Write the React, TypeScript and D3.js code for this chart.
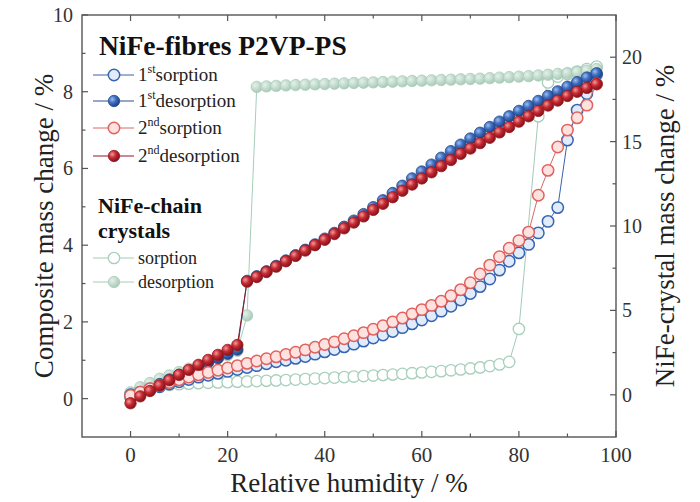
import React from 'react';
import * as d3 from 'd3';

// Relative humidity steps (%)
const rh = [0, 2, 4, 6, 8, 10, 12, 14, 16, 18, 20, 22, 24, 26, 28, 30, 32, 34, 36, 38, 40, 42, 44, 46, 48, 50, 52, 54, 56, 58, 60, 62, 64, 66, 68, 70, 72, 74, 76, 78, 80, 82, 84, 86, 88, 90, 92, 94, 96];

// Composite (left axis)
const sorption1 = [0.10, 0.17, 0.24, 0.31, 0.38, 0.44, 0.50, 0.56, 0.61, 0.66, 0.71, 0.76, 0.81, 0.86, 0.91, 0.96, 1.00, 1.05, 1.10, 1.16, 1.22, 1.28, 1.35, 1.42, 1.50, 1.58, 1.66, 1.75, 1.85, 1.95, 2.05, 2.16, 2.28, 2.41, 2.57, 2.74, 2.92, 3.12, 3.35, 3.58, 3.80, 4.02, 4.32, 4.62, 4.98, 6.74, 7.52, 7.95, 8.45];
const desorption1 = [0.02, 0.14, 0.26, 0.38, 0.50, 0.62, 0.73, 0.84, 0.95, 1.06, 1.17, 1.28, 3.07, 3.19, 3.32, 3.46, 3.60, 3.74, 3.88, 4.02, 4.17, 4.32, 4.48, 4.64, 4.81, 4.99, 5.17, 5.36, 5.55, 5.74, 5.92, 6.10, 6.28, 6.45, 6.62, 6.78, 6.93, 7.08, 7.22, 7.36, 7.50, 7.63, 7.76, 7.89, 8.01, 8.13, 8.25, 8.37, 8.48];
const sorption2 = [0.08, 0.17, 0.26, 0.34, 0.42, 0.49, 0.56, 0.62, 0.68, 0.74, 0.80, 0.86, 0.92, 0.98, 1.04, 1.09, 1.15, 1.21, 1.27, 1.34, 1.41, 1.48, 1.56, 1.64, 1.72, 1.81, 1.90, 2.00, 2.10, 2.21, 2.32, 2.43, 2.54, 2.68, 2.84, 3.02, 3.25, 3.48, 3.70, 3.92, 4.12, 4.34, 5.30, 5.95, 6.56, 7.00, 7.32, 7.65, 8.20];
const desorption2 = [-0.12, 0.06, 0.20, 0.34, 0.48, 0.62, 0.75, 0.88, 1.01, 1.14, 1.27, 1.40, 3.05, 3.17, 3.30, 3.44, 3.58, 3.72, 3.86, 4.00, 4.14, 4.29, 4.44, 4.59, 4.75, 4.92, 5.08, 5.25, 5.42, 5.58, 5.74, 5.90, 6.06, 6.22, 6.38, 6.52, 6.66, 6.80, 6.94, 7.08, 7.22, 7.36, 7.50, 7.64, 7.77, 7.89, 8.00, 8.10, 8.20];

// NiFe-chain crystals (right axis)
const rhCrystalSorption = [0, 2, 4, 6, 8, 10, 12, 14, 16, 18, 20, 22, 24, 26, 28, 30, 32, 34, 36, 38, 40, 42, 44, 46, 48, 50, 52, 54, 56, 58, 60, 62, 64, 66, 68, 70, 72, 74, 76, 78, 80, 84, 86, 88, 90, 92, 94, 96];
const crystalSorption = [0.05, 0.25, 0.40, 0.50, 0.58, 0.63, 0.66, 0.69, 0.71, 0.73, 0.75, 0.77, 0.79, 0.81, 0.83, 0.85, 0.87, 0.90, 0.93, 0.96, 0.99, 1.02, 1.05, 1.08, 1.11, 1.14, 1.17, 1.20, 1.24, 1.28, 1.32, 1.36, 1.40, 1.45, 1.50, 1.56, 1.62, 1.70, 1.80, 1.95, 3.90, 16.5, 18.5, 18.85, 19.0, 19.15, 19.3, 19.45];
const crystalDesorption = [0.15, 0.45, 0.70, 0.95, 1.15, 1.35, 1.55, 1.75, 1.95, 2.15, 2.35, 2.60, 4.70, 18.24, 18.27, 18.30, 18.33, 18.35, 18.37, 18.39, 18.41, 18.43, 18.45, 18.47, 18.49, 18.51, 18.53, 18.55, 18.57, 18.59, 18.61, 18.63, 18.65, 18.67, 18.69, 18.71, 18.73, 18.76, 18.79, 18.82, 18.85, 18.88, 18.92, 18.96, 19.01, 19.06, 19.12, 19.20, 19.30];

const xTicks = [0, 20, 40, 60, 80, 100];
const xMinor = [10, 30, 50, 70, 90];
const yLeftTicks = [0, 2, 4, 6, 8, 10];
const yLeftMinor = [1, 3, 5, 7, 9];
const yRightTicks = [0, 5, 10, 15, 20];
const yRightMinor = [2.5, 7.5, 12.5, 17.5];

const W = 700, H = 502;
const L = 82, R = 616, T = 15, B = 437;
const FONT = '"Liberation Serif", "Times New Roman", serif';
const MR = 5.7;

type Style = { line: string; stroke: string; fill: string; sw: number; opacity?: number };

const sBlueOpen: Style = { line: '#3a62aa', stroke: '#3565b2', fill: '#e2ebf9', sw: 1.5 };
const sBlueFill: Style = { line: '#2c4f92', stroke: '#234a8c', fill: 'url(#gBlue)', sw: 0.8 };
const sRedOpen: Style = { line: '#d86a66', stroke: '#e0615e', fill: '#fde2df', sw: 1.5 };
const sRedFill: Style = { line: '#8e1a22', stroke: '#9a1820', fill: 'url(#gRed)', sw: 0.8 };
const sGreenOpen: Style = { line: '#9fc9b3', stroke: '#a3cdb9', fill: '#ffffff', sw: 1.3, opacity: 0.95 };
const sGreenFill: Style = { line: '#9fc9b3', stroke: '#a3c8b4', fill: 'url(#gGreen)', sw: 0.8, opacity: 0.9 };

export default function App() {
  const x = d3.scaleLinear().domain([-10, 100]).range([L, R]);
  const yL = d3.scaleLinear().domain([-1, 10]).range([B, T]);
  const yR = d3.scaleLinear().domain([-2.5, 22.5]).range([B, T]);

  const series = (xs: number[], ys: number[], y: d3.ScaleLinear<number, number>, st: Style, key: string) => {
    const pts: [number, number][] = xs.map((v, i) => [x(v), y(ys[i])]);
    const path = d3.line()(pts) || '';
    return (
      <g key={key} opacity={st.opacity ?? 1}>
        <path d={path} fill="none" stroke={st.line} strokeWidth={1} />
        {pts.map((p, i) => (
          <circle key={i} cx={p[0]} cy={p[1]} r={MR} fill={st.fill} stroke={st.stroke} strokeWidth={st.sw} />
        ))}
      </g>
    );
  };

  const legendRow = (yy: number, st: Style, content: React.ReactNode, fs: number, key: string) => (
    <g key={key}>
      <g opacity={st.opacity ?? 1}>
        <line x1={93} x2={134} y1={yy} y2={yy} stroke={st.line} strokeWidth={1} />
        <circle cx={114} cy={yy} r={MR} fill={st.fill} stroke={st.stroke} strokeWidth={st.sw} />
      </g>
      <text x={138} y={yy + 6} fontSize={fs} fontFamily={FONT} fill="#222">{content}</text>
    </g>
  );

  const sup = (n: string, s: string, rest: string) => (
    <>
      {n}
      <tspan fontSize={12} dy={-8}>{s}</tspan>
      <tspan dy={8}>{rest}</tspan>
    </>
  );

  const axisColor = '#555';

  return (
    <svg width={W} height={H} style={{ position: 'absolute', left: 0, top: 0, background: '#fff' }}>
      <defs>
        <radialGradient id="gBlue" cx="35%" cy="35%" r="70%">
          <stop offset="0%" stopColor="#9dbdf0" />
          <stop offset="45%" stopColor="#3f6fc2" />
          <stop offset="100%" stopColor="#1a3c80" />
        </radialGradient>
        <radialGradient id="gRed" cx="35%" cy="35%" r="70%">
          <stop offset="0%" stopColor="#f29a98" />
          <stop offset="45%" stopColor="#c62a33" />
          <stop offset="100%" stopColor="#7d0f17" />
        </radialGradient>
        <radialGradient id="gGreen" cx="35%" cy="35%" r="70%">
          <stop offset="0%" stopColor="#e2f0e8" />
          <stop offset="100%" stopColor="#9cc3ae" />
        </radialGradient>
        <clipPath id="plot">
          <rect x={L} y={T} width={R - L} height={B - T} />
        </clipPath>
      </defs>

      {/* data */}
      <g clipPath="url(#plot)">
        {series(rhCrystalSorption, crystalSorption, yR, sGreenOpen, 'cs')}
        {series(rh, crystalDesorption, yR, sGreenFill, 'cd')}
        {series(rh, sorption1, yL, sBlueOpen, 's1')}
        {series(rh, desorption1, yL, sBlueFill, 'd1')}
        {series(rh, sorption2, yL, sRedOpen, 's2')}
        {series(rh, desorption2, yL, sRedFill, 'd2')}
      </g>

      {/* frame */}
      <rect x={L} y={T} width={R - L} height={B - T} fill="none" stroke={axisColor} strokeWidth={1.4} />

      {/* x ticks */}
      {xTicks.map(t => (
        <g key={'xt' + t}>
          <line x1={x(t)} x2={x(t)} y1={B} y2={B - 6} stroke={axisColor} strokeWidth={1.2} />
          <line x1={x(t)} x2={x(t)} y1={T} y2={T + 6} stroke={axisColor} strokeWidth={1.2} />
          <text x={x(t)} y={462} textAnchor="middle" fontSize={21} fontFamily={FONT} fill="#333">{t}</text>
        </g>
      ))}
      {xMinor.map(t => (
        <g key={'xm' + t}>
          <line x1={x(t)} x2={x(t)} y1={B} y2={B - 3.5} stroke={axisColor} strokeWidth={1.2} />
          <line x1={x(t)} x2={x(t)} y1={T} y2={T + 3.5} stroke={axisColor} strokeWidth={1.2} />
        </g>
      ))}

      {/* left ticks */}
      {yLeftTicks.map(t => (
        <g key={'yl' + t}>
          <line x1={L} x2={L + 6} y1={yL(t)} y2={yL(t)} stroke={axisColor} strokeWidth={1.2} />
          <text x={73} y={yL(t)} dy="0.35em" textAnchor="end" fontSize={20} fontFamily={FONT} fill="#333">{t}</text>
        </g>
      ))}
      {yLeftMinor.map(t => (
        <line key={'ylm' + t} x1={L} x2={L + 3.5} y1={yL(t)} y2={yL(t)} stroke={axisColor} strokeWidth={1.2} />
      ))}

      {/* right ticks */}
      {yRightTicks.map(t => (
        <g key={'yr' + t}>
          <line x1={R} x2={R - 6} y1={yR(t)} y2={yR(t)} stroke={axisColor} strokeWidth={1.2} />
          <text x={622} y={yR(t)} dy="0.35em" textAnchor="start" fontSize={20} fontFamily={FONT} fill="#333">{t}</text>
        </g>
      ))}
      {yRightMinor.map(t => (
        <line key={'yrm' + t} x1={R} x2={R - 3.5} y1={yR(t)} y2={yR(t)} stroke={axisColor} strokeWidth={1.2} />
      ))}

      {/* axis titles */}
      <text x={(L + R) / 2} y={492} textAnchor="middle" fontSize={27} fontFamily={FONT} fill="#222">Relative humidity / %</text>
      <text transform={`translate(53, ${(T + B) / 2}) rotate(-90)`} textAnchor="middle" fontSize={27} fontFamily={FONT} fill="#222">Composite mass change / %</text>
      <text transform={`translate(674, ${(T + B) / 2}) rotate(-90)`} textAnchor="middle" fontSize={27} fontFamily={FONT} fill="#222">NiFe-crystal mass change / %</text>

      {/* legend */}
      <text x={99} y={55} fontSize={27.5} fontWeight="bold" fontFamily={FONT} fill="#111">NiFe-fibres P2VP-PS</text>
      {legendRow(75, sBlueOpen, sup('1', 'st', 'sorption'), 19, 'l1')}
      {legendRow(101, sBlueFill, sup('1', 'st', 'desorption'), 19, 'l2')}
      {legendRow(128, sRedOpen, sup('2', 'nd', 'sorption'), 19, 'l3')}
      {legendRow(156, sRedFill, sup('2', 'nd', 'desorption'), 19, 'l4')}
      <text x={98} y={213} fontSize={22} fontWeight="bold" fontFamily={FONT} fill="#111">NiFe-chain</text>
      <text x={98} y={238} fontSize={22} fontWeight="bold" fontFamily={FONT} fill="#111">crystals</text>
      {legendRow(258, sGreenOpen, 'sorption', 18, 'l5')}
      {legendRow(282, sGreenFill, 'desorption', 18, 'l6')}
    </svg>
  );
}
